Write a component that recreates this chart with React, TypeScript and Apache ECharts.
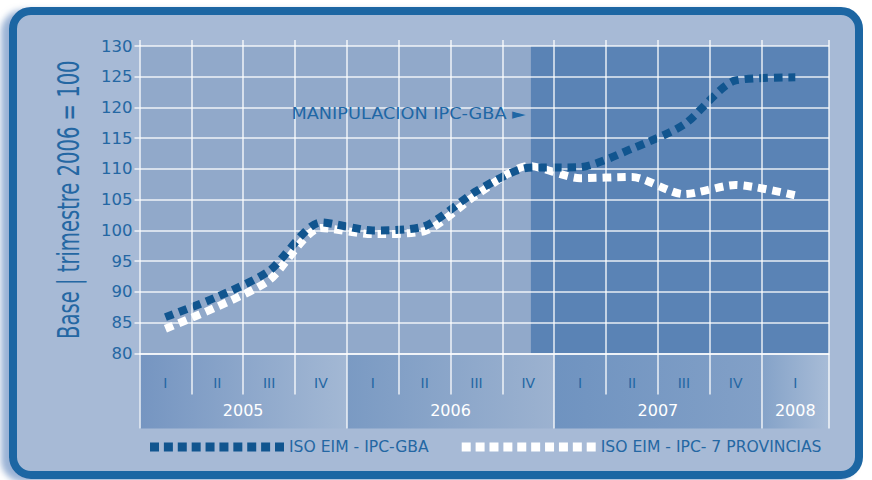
import React, { useEffect, useRef } from "react";
import * as echarts from "echarts";

// ---------- data ----------
const quarterLabels = ["I", "II", "III", "IV", "I", "II", "III", "IV", "I", "II", "III", "IV", "I"];
const yearLabels = ["2005", "2006", "2007", "2008"];
const quartersPerYear = [4, 4, 4, 1];
const seriesNames = ["ISO EIM - IPC-GBA", "ISO EIM - IPC- 7 PROVINCIAS"];
const valuesGBA = [85.9, 89.2, 93.4, 101.3, 100.0, 100.7, 106.4, 110.2, 110.3, 113.3, 117.2, 124.4, 124.9];
const values7Prov = [84.0, 87.6, 91.9, 100.4, 99.4, 99.9, 105.8, 110.5, 108.5, 108.7, 105.9, 107.4, 105.7];
const yTicksMin = 80;
const yTicksMax = 130;
const yTickStep = 5;
const yTitle = "Base | trimestre 2006 = 100";
const annotationText = "MANIPULACION IPC-GBA \u25BA";
const manipulationStart = 7.55; // on the quarter scale
const annotationAnchor = [7.45, 119];

// ---------- layout / style ----------
const lastColumnSpan = 1.3;
const GRID = "rgba(255,255,255,0.85)";
const BLUE = "#11558f";
const TEXT_BLUE = "#2467a3";
const FONT = "'DejaVu Sans', sans-serif";

const spans = quarterLabels.map((_, i) => (i === quarterLabels.length - 1 ? lastColumnSpan : 1));
const bounds: number[] = [0];
spans.forEach((s, i) => bounds.push(bounds[i] + s));
const XMAX = bounds[bounds.length - 1];
const centers = spans.map((s, i) => bounds[i] + s / 2);
const yearBoundIdx: number[] = [0];
quartersPerYear.forEach((q, i) => yearBoundIdx.push(yearBoundIdx[i] + q));
const yearBounds = yearBoundIdx.map((i) => bounds[i]);
const yearCenters = yearLabels.map((_, i) => (yearBounds[i] + yearBounds[i + 1]) / 2);
const quarterSeparators = bounds.filter((_, i) => !yearBoundIdx.includes(i));

const nearestLabel = (v: number, pos: number[], labels: string[]) => {
  let best = 0;
  pos.forEach((p, i) => {
    if (Math.abs(p - v) < Math.abs(pos[best] - v)) best = i;
  });
  return labels[best];
};

const squaresPath = (() => {
  let d = "path://";
  for (let i = 0; i < 10; i++) d += `M${(i * 13.9).toFixed(1)} 0h9v9h-9z`;
  return d;
})();

const bandColors = [
  ["#7595c1", "#a3b8d4"],
  ["#7a9ac3", "#9cb2d0"],
  ["#6f93c0", "#82a0c7"],
  ["#84a2c8", "#a8bcd7"],
];

export default function App() {
  const ref = useRef<HTMLDivElement>(null);
  useEffect(() => {
    document.body.style.margin = "0";
    if (!ref.current) return;
    const chart = echarts.init(ref.current, undefined, { renderer: "svg" });
    const lineSeries = (name: string, vals: number[], color: string, z: number) => ({
      type: "line",
      name,
      z,
      color,
      data: vals.map((v, i) => [centers[i], v]),
      showSymbol: false,
      symbol: "none",
      smooth: 0.25,
      silent: true,
      itemStyle: { color },
      lineStyle: { color, width: 8, type: [8.5, 6], cap: "butt" },
    });
    chart.setOption({
      animation: false,
      backgroundColor: "#ffffff",
      grid: {
        left: 139.5,
        right: 43,
        top: 46,
        bottom: 126.6,
        show: true,
        backgroundColor: "#91a9ca",
        borderWidth: 0,
      },
      xAxis: [
        {
          type: "value",
          min: 0,
          max: XMAX,
          position: "bottom",
          z: 2,
          axisLine: { show: true, lineStyle: { color: GRID, width: 1.5 } },
          axisTick: { show: true, customValues: quarterSeparators, length: 41, lineStyle: { color: GRID, width: 1.5 } },
          axisLabel: {
            show: true,
            customValues: centers,
            formatter: (v: number) => nearestLabel(v, centers, quarterLabels),
            color: TEXT_BLUE,
            fontSize: 14,
            fontFamily: FONT,
            margin: 23,
          },
          splitLine: { show: false },
        },
        {
          type: "value",
          min: 0,
          max: XMAX,
          position: "bottom",
          z: 2,
          axisLine: { show: false },
          axisTick: { show: true, customValues: yearBounds, length: 75, lineStyle: { color: GRID, width: 1.5 } },
          axisLabel: {
            show: true,
            customValues: yearCenters,
            formatter: (v: number) => nearestLabel(v, yearCenters, yearLabels),
            color: "#ffffff",
            fontSize: 16,
            fontFamily: FONT,
            margin: 49,
          },
          splitLine: { show: false },
        },
        {
          type: "value",
          min: 0,
          max: XMAX,
          position: "top",
          z: 2,
          axisLine: { show: false },
          axisTick: { show: true, customValues: bounds, length: 6, lineStyle: { color: GRID, width: 1.5 } },
          axisLabel: { show: false },
          splitLine: { show: false },
        },
      ],
      yAxis: {
        type: "value",
        min: yTicksMin,
        max: yTicksMax,
        interval: yTickStep,
        position: "left",
        z: 2,
        axisLine: { show: true, lineStyle: { color: GRID, width: 1.5 } },
        axisTick: { show: true, length: 5, lineStyle: { color: GRID, width: 1.5 } },
        axisLabel: { color: TEXT_BLUE, fontSize: 16.5, fontFamily: FONT, margin: 7 },
        splitLine: { show: true, lineStyle: { color: GRID, width: 1.5 } },
      },
      legend: {
        left: 145,
        top: 434,
        itemGap: 33,
        itemWidth: 134,
        itemHeight: 9,
        icon: squaresPath,
        symbolKeepAspect: false,
        selectedMode: false,
        itemStyle: { borderWidth: 0 },
        textStyle: { color: TEXT_BLUE, fontSize: 15.6, fontFamily: FONT },
        data: [
          { name: seriesNames[0], itemStyle: { color: BLUE } },
          { name: seriesNames[1], itemStyle: { color: "#ffffff" } },
        ],
      },
      series: [
        {
          type: "line",
          name: "_shade",
          data: [],
          z: 1,
          silent: true,
          markArea: {
            silent: true,
            itemStyle: { color: "#5a83b5" },
            data: [[{ xAxis: manipulationStart }, { xAxis: XMAX }]],
          },
        },
        {
          type: "line",
          name: "_vgrid",
          data: [],
          z: 2,
          silent: true,
          markLine: {
            silent: true,
            symbol: ["none", "none"],
            label: { show: false },
            emphasis: { disabled: true },
            lineStyle: { color: GRID, width: 1.5, type: "solid" },
            data: bounds.slice(1).map((b) => ({ xAxis: b })),
          },
        },
        lineSeries(seriesNames[1], values7Prov, "#ffffff", 3),
        lineSeries(seriesNames[0], valuesGBA, BLUE, 4),
      ],
    });

    const px = (v: number) => chart.convertToPixel({ xAxisIndex: 0 }, v) as number;
    const py = (v: number) => chart.convertToPixel({ yAxisIndex: 0 }, v) as number;
    const bandTop = py(yTicksMin);
    const bandHeight = 75;
    const bandRects = yearLabels.map((_, i) => ({
      type: "rect",
      z: -5,
      silent: true,
      shape: {
        x: px(yearBounds[i]),
        y: bandTop,
        width: px(yearBounds[i + 1]) - px(yearBounds[i]),
        height: bandHeight,
      },
      style: {
        fill: new echarts.graphic.LinearGradient(0, 0, 1, 0, [
          { offset: 0, color: bandColors[i][0] },
          { offset: 1, color: bandColors[i][1] },
        ]),
      },
    }));
    chart.setOption({
      graphic: [
        {
          type: "rect",
          z: -10,
          silent: true,
          shape: { x: 13, y: 11, width: 846, height: 464, r: 18 },
          style: {
            fill: "#a7bad6",
            stroke: "#1b66a3",
            lineWidth: 8,
            shadowBlur: 6,
            shadowColor: "rgba(110,145,195,0.7)",
            shadowOffsetX: -8,
            shadowOffsetY: 3,
          },
        },
        ...bandRects,
        {
          type: "text",
          z: 10,
          silent: true,
          x: 69,
          y: (py(yTicksMin) + py(yTicksMax)) / 2,
          rotation: Math.PI / 2,
          scaleX: 0.725,
          style: {
            text: yTitle,
            fill: TEXT_BLUE,
            fontSize: 30,
            fontFamily: "'DejaVu Sans Condensed', sans-serif",
            align: "center",
            textAlign: "center",
            verticalAlign: "middle",
            textVerticalAlign: "middle",
          },
        },
        {
          type: "text",
          z: 10,
          silent: true,
          x: px(annotationAnchor[0]),
          y: py(annotationAnchor[1]),
          scaleX: 1.18,
          style: {
            text: annotationText,
            fill: "#1f67a5",
            fontSize: 15,
            fontFamily: FONT,
            align: "right",
            textAlign: "right",
            verticalAlign: "middle",
            textVerticalAlign: "middle",
          },
        },
      ],
    });
    return () => chart.dispose();
  }, []);
  return <div ref={ref} style={{ width: 872, height: 480 }} />;
}
